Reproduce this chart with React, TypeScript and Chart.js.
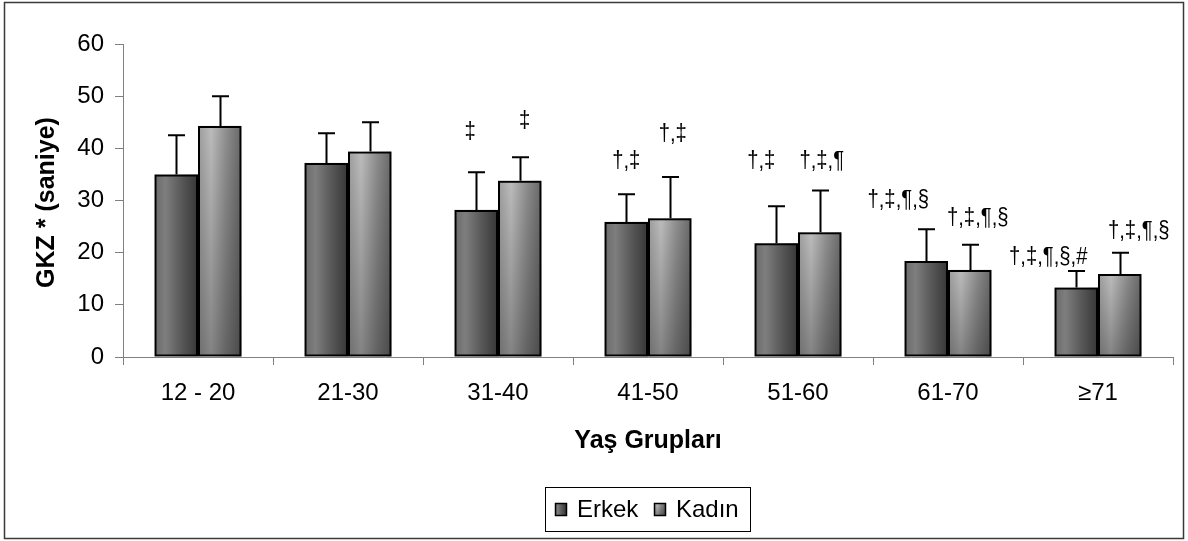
import React, { useEffect, useRef } from "react";
import { Chart, registerables } from "chart.js";

Chart.register(...registerables);

// ---- Data ----
const ageGroups = ["12 - 20", "21-30", "31-40", "41-50", "51-60", "61-70", "≥71"];
const erkekMeans = [35.0, 37.2, 28.2, 25.9, 21.8, 18.4, 13.3];
const erkekSD = [7.5, 5.7, 7.2, 5.3, 7.1, 6.1, 3.2];
const kadinMeans = [44.3, 39.4, 33.8, 26.6, 23.9, 16.7, 15.9];
const kadinSD = [5.7, 5.6, 4.5, 7.9, 8.0, 4.8, 4.1];
const erkekSig = ["", "", "‡", "†,‡", "†,‡", "†,‡,¶,§", "†,‡,¶,§,#"];
const kadinSig = ["", "", "‡", "†,‡", "†,‡,¶", "†,‡,¶,§", "†,‡,¶,§"];
const erkekSigAt: (number | null)[] = [null, null, 43.0, 37.6, 37.6, 30.1, 19.2];
const kadinSigAt: (number | null)[] = [null, null, 45.2, 42.7, 37.6, 26.6, 24.0];
const yMin = 0;
const yMax = 60;
const yStep = 10;
const seriesNames = ["Erkek", "Kadın"];
const xTitle = "Yaş Grupları";
const yTitle = "GKZ * (saniye)";

// label horizontal nudges (px), as placed in the original
const erkekSigShift = [0, 0, -6, 0, -15, -28, -28];
const kadinSigShift = [0, 0, 5, 3, 2, 8, 19];

const FONT = '"Liberation Sans", Arial, Helvetica, sans-serif';

function erkekGradient(ctx: CanvasRenderingContext2D, l: number, r: number) {
  const g = ctx.createLinearGradient(l, 0, r, 0);
  g.addColorStop(0, "#6a6a6a");
  g.addColorStop(0.25, "#7e7e7e");
  g.addColorStop(0.6, "#5a5a5a");
  g.addColorStop(1, "#363636");
  return g;
}
function kadinGradient(ctx: CanvasRenderingContext2D, l: number, r: number) {
  const g = ctx.createLinearGradient(l, 0, r, 0);
  g.addColorStop(0, "#9c9c9c");
  g.addColorStop(0.3, "#bcbcbc");
  g.addColorStop(0.65, "#8e8e8e");
  g.addColorStop(1, "#686868");
  return g;
}
function fillBar(ctx: CanvasRenderingContext2D, idx: number, l: number, r: number, t: number, b: number) {
  ctx.fillStyle = idx === 0 ? erkekGradient(ctx, l, r) : kadinGradient(ctx, l, r);
  ctx.fillRect(l, t, r - l, b - t);
  if (idx === 1) {
    const v = ctx.createLinearGradient(0, t, 0, b);
    v.addColorStop(0, "rgba(0,0,0,0)");
    v.addColorStop(1, "rgba(0,0,0,0.3)");
    ctx.fillStyle = v;
    ctx.fillRect(l, t, r - l, b - t);
  }
}

const decorPlugin = {
  id: "decor",
  beforeDraw(chart: any) {
    const ctx = chart.ctx as CanvasRenderingContext2D;
    ctx.save();
    ctx.fillStyle = "#ffffff";
    ctx.fillRect(0, 0, chart.width, chart.height);
    ctx.restore();
  },
  beforeDatasetsDraw(chart: any) {
    const ctx = chart.ctx as CanvasRenderingContext2D;
    ctx.save();
    chart.data.datasets.forEach((_: any, di: number) => {
      const meta = chart.getDatasetMeta(di);
      meta.data.forEach((el: any) => {
        const l = el.x - el.width / 2;
        const r = el.x + el.width / 2;
        const t = Math.min(el.y, el.base);
        const b = Math.max(el.y, el.base);
        fillBar(ctx, di, l, r, t, b);
      });
    });
    ctx.restore();
  },
  afterDatasetsDraw(chart: any) {
    const ctx = chart.ctx as CanvasRenderingContext2D;
    const yScale = chart.scales.y;
    const sds = [erkekSD, kadinSD];
    const means = [erkekMeans, kadinMeans];
    const sigs = [erkekSig, kadinSig];
    const sigAt = [erkekSigAt, kadinSigAt];
    const shifts = [erkekSigShift, kadinSigShift];
    ctx.save();
    ctx.strokeStyle = "#000";
    ctx.lineWidth = 2;
    chart.data.datasets.forEach((_: any, di: number) => {
      const meta = chart.getDatasetMeta(di);
      meta.data.forEach((el: any, i: number) => {
        const top = yScale.getPixelForValue(means[di][i] + sds[di][i]);
        const x = Math.round(el.x) + 0.5;
        ctx.beginPath();
        ctx.moveTo(x, el.y);
        ctx.lineTo(x, top);
        ctx.moveTo(x - 8.5, top);
        ctx.lineTo(x + 8.5, top);
        ctx.stroke();
        const s = sigs[di][i];
        const at = sigAt[di][i];
        if (s && at !== null) {
          ctx.save();
          ctx.fillStyle = "#000";
          ctx.font = `22px ${FONT}`;
          ctx.textAlign = "center";
          ctx.textBaseline = "middle";
          ctx.translate(el.x + shifts[di][i], yScale.getPixelForValue(at));
          ctx.scale(0.92, 1.1);
          ctx.fillText(s, 0, 0);
          ctx.restore();
        }
      });
    });
    ctx.restore();
  },
  afterDraw(chart: any) {
    const ctx = chart.ctx as CanvasRenderingContext2D;
    const area = chart.chartArea;
    ctx.save();
    // outer frame
    ctx.strokeStyle = "#3a3a3a";
    ctx.lineWidth = 1.5;
    ctx.strokeRect(4.5, 2.5, 1179, 536);

    // axis titles
    ctx.fillStyle = "#000";
    ctx.font = `bold 25px ${FONT}`;
    ctx.textAlign = "center";
    ctx.textBaseline = "middle";
    ctx.fillText(xTitle, (area.left + area.right) / 2, 441);
    ctx.save();
    ctx.translate(47, (area.top + area.bottom) / 2 + 2);
    ctx.rotate(-Math.PI / 2);
    ctx.fillText(yTitle, 0, 0);
    ctx.restore();

    // legend
    ctx.strokeStyle = "#000";
    ctx.lineWidth = 1;
    ctx.strokeRect(545.5, 487.5, 205, 44);
    const swatches = [555, 654];
    const textX = [577, 676];
    ctx.font = `24px ${FONT}`;
    ctx.textAlign = "left";
    ctx.textBaseline = "middle";
    seriesNames.forEach((name, i) => {
      const sx = swatches[i];
      fillBar(ctx, i, sx, sx + 11, 503, 515);
      ctx.lineWidth = 1.5;
      ctx.strokeStyle = "#000";
      ctx.strokeRect(sx + 0.5, 503.5, 11, 12);
      ctx.fillStyle = "#000";
      ctx.fillText(name, textX[i], 510);
    });
    ctx.restore();
  },
};

export default function App() {
  const ref = useRef<HTMLCanvasElement | null>(null);
  useEffect(() => {
    if (!ref.current) return;
    const chart = new Chart(ref.current, {
      type: "bar",
      data: {
        labels: ageGroups,
        datasets: [
          {
            label: seriesNames[0],
            data: erkekMeans,
            backgroundColor: "rgba(0,0,0,0)",
            borderColor: "#000",
            borderWidth: 2,
            borderSkipped: false,
            categoryPercentage: 0.58,
            barPercentage: 1,
          },
          {
            label: seriesNames[1],
            data: kadinMeans,
            backgroundColor: "rgba(0,0,0,0)",
            borderColor: "#000",
            borderWidth: 2,
            borderSkipped: false,
            categoryPercentage: 0.58,
            barPercentage: 1,
          },
        ],
      },
      options: {
        responsive: false,
        animation: false,
        devicePixelRatio: 1,
        layout: { padding: { left: 0, right: 15, top: 44, bottom: 0 } },
        plugins: {
          legend: { display: false },
          tooltip: { enabled: false },
          title: { display: false },
        },
        scales: {
          x: {
            grid: {
              offset: true,
              drawOnChartArea: false,
              drawTicks: true,
              tickLength: 8,
              color: "#808080",
            },
            border: { display: true, color: "#808080", width: 1 },
            ticks: {
              color: "#000",
              font: { family: FONT, size: 24 },
              padding: 14,
              maxRotation: 0,
              autoSkip: false,
            },
            afterFit: (scale: any) => {
              scale.height = 184;
            },
          },
          y: {
            min: yMin,
            max: yMax,
            grid: {
              drawOnChartArea: false,
              drawTicks: true,
              tickLength: 8,
              color: "#808080",
            },
            border: { display: true, color: "#808080", width: 1 },
            ticks: {
              stepSize: yStep,
              color: "#000",
              font: { family: FONT, size: 24 },
              padding: 11,
            },
            afterFit: (scale: any) => {
              scale.width = 123;
            },
          },
        },
      },
      plugins: [decorPlugin],
    });
    return () => chart.destroy();
  }, []);
  return (
    <div style={{ position: "absolute", left: 0, top: 0, width: 1188, height: 541 }}>
      <canvas ref={ref} width={1188} height={541} style={{ display: "block" }} />
    </div>
  );
}
